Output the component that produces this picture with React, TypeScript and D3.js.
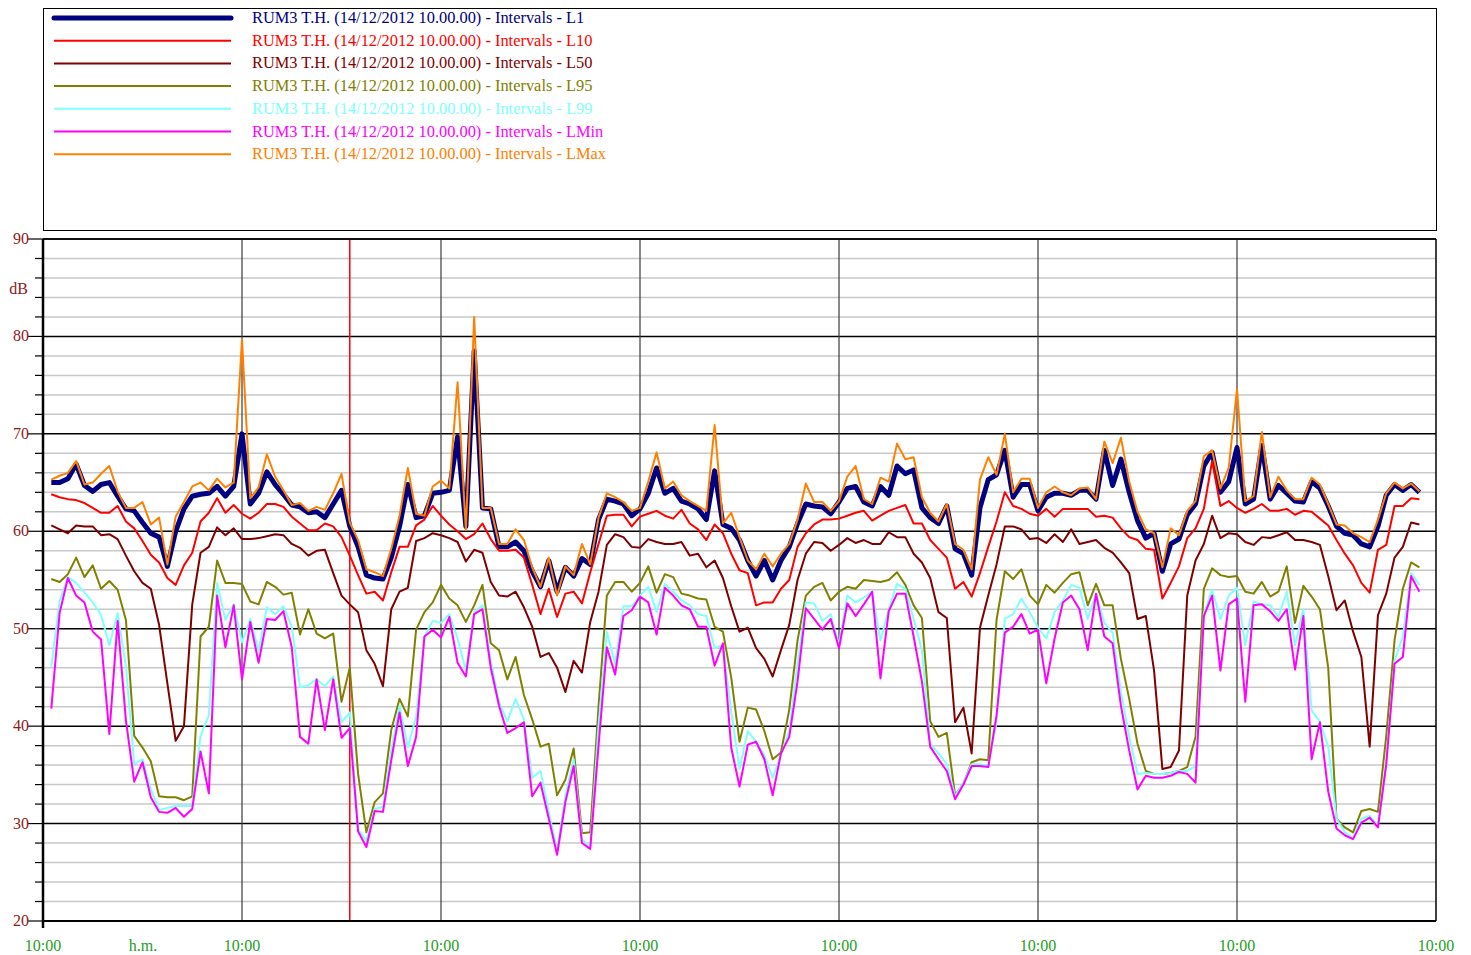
import React from "react";
import * as d3 from "d3";

const W = 1471;
const H = 955;

const seriesNames = ["L1", "L10", "L50", "L95", "L99", "LMin", "LMax"];
const seriesColors = ["#000080", "#ff0000", "#800000", "#808000", "#80ffff", "#ff00ff", "#ff8000"];
const legendPrefix = "RUM3 T.H. (14/12/2012 10.00.00) - Intervals - ";
const yTickLabels = [20, 30, 40, 50, 60, 70, 80, 90];
const xTickLabels = ["10:00", "10:00", "10:00", "10:00", "10:00", "10:00", "10:00", "10:00"];
const xTickHours = [0, 24, 48, 72, 96, 120, 144, 168];
const cursorHour = 37;

const L1 = [65.0,65.0,65.4,66.9,64.7,64.1,64.8,65.0,63.6,62.3,62.1,60.9,59.8,59.4,56.4,60.0,62.3,63.6,63.8,63.9,64.6,63.6,64.6,70.0,62.8,63.9,66.1,64.8,63.8,62.7,62.5,61.9,62.0,61.4,62.8,64.2,60.5,58.4,55.5,55.2,55.1,57.3,60.5,64.8,61.4,61.6,63.9,64.0,64.2,69.7,60.5,78.5,62.4,62.3,58.4,58.4,58.9,58.0,55.9,54.3,57.0,53.8,56.3,55.4,57.2,56.6,61.2,63.3,63.1,62.8,61.6,62.3,63.9,66.5,63.9,64.4,63.1,62.8,62.3,61.2,66.2,60.7,60.3,59.1,57.0,55.4,57.0,55.0,57.0,58.4,60.8,62.8,62.6,62.5,61.8,63.0,64.4,64.6,63.0,62.6,64.6,63.7,66.7,65.9,66.3,62.4,61.4,60.8,62.6,58.2,57.7,55.5,62.4,65.3,65.8,68.3,63.5,64.8,64.8,62.1,63.5,63.9,63.9,63.7,64.2,64.2,63.3,68.3,64.7,67.4,64.0,61.1,59.3,59.8,55.9,58.7,59.2,61.7,62.8,66.7,68.1,64.0,65.1,68.6,62.8,63.3,68.8,63.3,64.7,63.9,63.1,63.0,65.1,64.4,62.6,60.5,59.8,59.6,58.7,58.4,60.5,63.7,64.8,64.2,64.8,64.0];
const L10 = [63.8,63.5,63.3,63.2,62.9,62.4,61.9,61.9,62.6,61.0,60.3,59.0,57.6,56.8,55.2,54.5,56.5,57.8,61.0,61.9,63.4,61.9,62.7,61.8,61.3,61.9,62.8,62.8,62.5,61.5,60.8,60.1,60.1,60.8,60.5,59.4,57.5,55.5,53.6,53.8,52.9,55.8,58.4,58.4,60.6,61.2,62.6,61.6,60.7,60.0,59.2,59.7,60.8,59.2,58.0,58.0,58.1,57.3,54.5,51.5,54.1,51.2,53.6,53.8,52.6,55.8,58.7,61.6,61.7,61.7,60.5,61.5,61.8,62.1,61.6,61.3,62.2,60.8,60.2,59.1,60.7,59.8,57.7,56.0,55.7,52.4,52.7,52.7,54.1,55.0,58.4,59.8,60.7,61.2,61.2,61.3,61.6,61.9,62.1,61.1,61.6,62.1,62.4,62.7,60.8,60.8,59.1,58.2,57.3,54.1,54.8,53.3,55.7,58.4,61.0,64.0,62.6,62.3,61.8,61.6,62.3,61.5,62.3,62.3,62.3,62.3,61.5,61.6,61.4,60.3,59.4,59.1,58.2,58.1,53.1,54.7,56.4,59.3,60.3,62.3,67.2,62.6,63.1,62.4,61.9,62.3,62.8,62.1,62.1,62.3,61.7,62.1,62.0,61.3,60.6,59.1,57.7,56.5,54.7,53.7,58.1,58.6,62.6,62.6,63.4,63.3];
const L50 = [60.6,60.2,59.8,60.6,60.5,60.5,59.6,59.7,59.2,57.5,55.9,54.7,54.1,50.4,44.4,38.5,40.0,52.5,57.8,58.4,60.4,59.6,60.3,59.2,59.2,59.3,59.5,59.7,59.6,58.7,58.3,57.5,58.0,58.1,55.7,53.4,52.5,51.7,47.8,46.4,44.1,52.0,53.8,54.2,59.0,59.3,59.8,59.6,59.3,58.9,56.9,58.1,57.8,54.8,53.4,53.3,53.8,52.2,50.2,47.1,47.5,46.0,43.5,46.7,45.5,50.7,53.8,58.6,59.7,59.4,58.4,58.3,59.2,58.9,58.7,58.7,58.9,57.5,57.7,56.3,57.0,55.2,52.3,49.7,50.1,48.0,46.9,45.1,47.8,50.4,55.0,57.7,58.9,58.8,58.0,58.6,59.3,58.8,59.1,58.7,58.7,59.9,59.4,59.4,57.7,56.8,55.2,51.7,51.1,40.4,41.9,37.2,50.1,53.4,56.6,60.5,60.5,60.2,59.2,59.3,58.8,59.7,58.9,60.2,58.7,58.9,59.1,58.3,57.8,56.8,55.7,51.0,51.3,45.7,35.6,35.8,37.5,53.4,57.0,58.7,61.6,59.3,59.8,59.7,58.9,58.6,59.4,59.3,59.6,59.9,59.1,59.1,58.9,58.6,55.4,51.9,52.9,49.7,47.1,37.9,51.4,53.6,57.3,58.4,60.9,60.7];
const L95 = [55.1,54.8,55.6,57.3,55.3,56.5,54.1,54.9,54.0,50.9,39.0,37.8,36.4,32.8,32.7,32.7,32.4,32.8,49.2,50.2,57.0,54.7,54.7,54.6,52.8,52.5,54.8,54.3,53.5,53.7,49.4,52.0,49.5,49.0,49.5,42.5,46.0,35.1,29.1,32.2,33.1,39.6,42.8,41.0,49.9,51.7,52.7,54.5,53.1,52.4,50.7,52.4,54.5,48.5,47.8,44.8,47.1,43.2,40.7,37.9,38.2,32.9,34.5,37.7,29.0,29.1,42.0,53.4,54.8,54.8,53.8,54.7,56.4,53.7,55.6,55.3,53.6,53.4,53.1,53.0,50.2,49.7,45.0,38.4,41.9,41.7,39.5,36.6,37.3,41.7,48.8,53.4,54.3,54.7,52.9,53.8,54.3,54.1,55.0,54.9,54.8,55.0,55.8,54.5,52.4,51.1,40.5,38.9,39.3,32.9,34.1,36.3,36.6,36.5,50.9,55.9,55.1,56.1,53.4,52.5,54.5,53.7,54.7,55.6,55.8,52.4,54.6,52.4,52.4,46.9,42.8,38.2,35.4,35.1,35.1,35.2,35.4,35.8,38.9,54.1,56.2,55.5,55.3,55.4,53.8,53.6,54.8,53.3,53.8,56.4,50.6,54.4,53.3,52.0,46.0,30.5,29.6,29.1,31.3,31.5,31.2,39.0,48.8,54.1,56.8,56.3];
const L99 = [46.1,52.8,55.3,54.7,53.7,52.7,51.4,48.3,51.6,46.1,36.1,36.6,33.5,31.4,31.6,31.8,31.8,31.8,39.0,41.1,54.7,50.9,52.5,48.6,51.0,47.7,52.2,51.5,52.3,50.2,44.0,44.2,44.8,44.1,45.1,40.4,41.4,29.4,28.2,31.5,31.7,37.5,42.1,37.8,41.0,49.2,50.8,50.6,51.5,49.0,45.7,51.7,52.4,46.7,42.5,40.5,42.8,40.7,34.7,35.4,31.2,27.3,32.9,36.6,28.4,27.6,40.0,49.7,46.4,52.3,52.3,53.4,54.3,51.7,54.6,53.8,52.9,52.4,51.5,51.3,48.0,48.3,41.5,35.6,39.5,38.4,37.0,34.7,37.0,39.5,46.4,52.7,52.6,50.8,51.5,48.3,53.4,52.7,53.2,53.8,48.8,52.0,54.6,54.1,51.0,47.8,38.2,37.2,36.1,32.8,34.2,36.1,36.1,35.9,40.4,51.0,51.5,53.1,51.7,50.1,49.0,51.7,52.9,54.5,54.2,51.0,53.6,50.6,49.6,43.5,38.9,35.1,35.2,35.1,35.1,35.2,35.4,35.4,35.9,51.5,54.0,51.0,53.4,54.2,48.3,52.8,52.5,52.4,51.2,53.8,48.3,52.0,41.6,40.5,37.9,30.5,29.1,28.5,30.5,30.8,29.8,36.1,46.7,49.2,55.7,54.5];
const LMin = [41.8,51.6,55.2,53.4,52.7,49.7,48.9,39.2,50.8,40.6,34.3,36.3,32.7,31.2,31.1,31.6,30.7,31.5,37.4,33.1,53.4,48.1,52.4,44.8,50.7,46.5,51.0,50.9,51.8,48.1,38.9,38.2,44.8,39.6,44.8,38.8,39.8,29.2,27.6,31.3,31.2,36.5,41.4,35.9,38.9,49.2,49.9,49.1,51.2,46.5,45.1,51.5,52.0,46.0,42.1,39.3,39.8,40.4,32.8,34.2,30.5,26.8,32.2,35.9,28.0,27.4,38.0,48.1,45.3,51.3,51.9,53.3,52.7,49.4,54.2,53.4,52.4,52.0,50.2,50.2,46.2,48.5,37.8,33.8,38.1,38.4,36.6,32.9,37.2,38.9,44.6,52.1,51.0,49.9,51.0,48.0,52.6,51.3,52.5,53.8,44.9,51.8,53.6,53.6,49.2,44.6,37.9,36.6,35.4,32.5,34.0,35.9,35.9,35.8,41.1,49.6,50.2,51.5,49.5,49.9,44.4,49.0,52.7,53.4,52.0,47.8,53.6,49.2,48.5,42.1,37.5,33.5,34.9,34.7,34.7,34.9,35.3,35.1,34.2,51.3,53.4,45.7,52.5,53.1,42.5,52.4,52.5,51.8,50.8,52.0,45.8,51.3,36.6,40.4,33.3,29.5,28.8,28.4,30.1,30.6,29.6,36.1,46.4,47.1,55.4,53.8];
const LMax = [65.3,65.7,66.0,67.2,64.8,65.0,65.9,66.7,64.1,62.4,62.4,63.0,60.7,61.4,56.6,61.5,63.0,64.6,65.0,64.2,65.4,64.5,65.0,79.7,63.4,64.5,67.9,65.6,64.2,62.7,62.9,62.1,62.5,62.2,63.9,65.9,60.9,59.1,56.1,55.8,55.4,58.2,61.6,66.5,61.8,61.6,64.6,65.2,64.4,75.3,60.1,82.0,62.4,62.4,58.7,58.7,60.2,59.1,56.3,54.3,57.3,53.4,56.4,55.5,58.7,56.6,61.4,63.9,63.5,63.0,62.1,62.4,65.1,68.1,64.4,65.1,63.7,63.1,62.6,62.1,70.9,60.8,61.9,59.4,57.0,56.1,57.7,56.4,57.7,58.7,61.2,64.9,63.0,63.0,62.1,63.1,65.6,66.7,63.3,62.8,65.5,65.1,69.0,67.4,67.6,63.5,61.9,61.0,62.8,58.7,58.1,56.1,65.3,67.6,65.8,70.0,64.0,65.4,65.4,62.4,64.0,64.6,64.0,63.7,64.4,64.5,63.3,69.2,67.0,69.6,65.1,62.0,60.2,59.8,56.3,60.3,59.6,62.1,63.1,67.7,68.3,64.4,66.5,74.6,63.1,63.6,70.2,63.5,65.6,64.2,63.3,63.3,65.5,64.8,62.8,60.7,60.6,59.8,59.4,58.9,61.2,63.9,65.0,64.4,64.9,64.1];

const seriesData = [L1, L10, L50, L95, L99, LMin, LMax];
const firstHour = 1;

export default function App() {
  const left = 43, right = 1436, top = 239, bottom = 921;
  const x = d3.scaleLinear().domain([0, 168]).range([left, right]);
  const y = d3.scaleLinear().domain([20, 90]).range([bottom, top]);

  const line = d3
    .line<number>()
    .x((_, i) => x(firstHour + i))
    .y((d) => y(d));

  const minorTicks = d3.range(20, 91, 2);
  const font = "'Liberation Serif', 'Times New Roman', serif";
  const axisRed = "#8b1a1a";
  const green = "#1e9e1e";
  const fs = 16;
  const legendFs = 16.4;

  return (
    <svg
      width={W}
      height={H}
      style={{ position: "absolute", left: 0, top: 0, background: "#fff" }}
      fontFamily={font}
    >
      <rect x={0} y={0} width={W} height={H} fill="#fff" />
      {/* Legend box */}
      <rect x={43.5} y={8.5} width={1393} height={222} fill="#fff" stroke="#000" strokeWidth={1} />
      {seriesNames.map((n, i) => {
        const ly = 18 + i * 22.7;
        return (
          <g key={n}>
            <line
              x1={54}
              x2={231}
              y1={ly}
              y2={ly}
              stroke={seriesColors[i]}
              strokeWidth={i === 0 ? 5 : 2}
              strokeLinecap={i === 0 ? "round" : "butt"}
            />
            <text x={252} y={ly + 5} fontSize={legendFs} fill={seriesColors[i]}>
              {legendPrefix + n}
            </text>
          </g>
        );
      })}

      {/* Horizontal grid */}
      {minorTicks.map((v) => (
        <line
          key={"g" + v}
          x1={left}
          x2={right}
          y1={y(v)}
          y2={y(v)}
          stroke={v % 10 === 0 ? "#000" : "#c8c8c8"}
          strokeWidth={1.5}
        />
      ))}
      {/* Vertical day lines */}
      {xTickHours.slice(1, -1).map((h) => (
        <line key={"v" + h} x1={x(h)} x2={x(h)} y1={top} y2={bottom} stroke="#3a3a3a" strokeWidth={1.2} />
      ))}
      {/* Cursor */}
      <line x1={x(cursorHour)} x2={x(cursorHour)} y1={top} y2={bottom} stroke="#ff0000" strokeWidth={1.5} />

      {/* Series */}
      {seriesData.map((data, i) => (
        <path
          key={seriesNames[i]}
          d={line(data) || ""}
          fill="none"
          stroke={seriesColors[i]}
          strokeWidth={i === 0 ? 5 : 2}
          strokeLinejoin="round"
        />
      ))}

      {/* Frame */}
      <line x1={left} x2={right} y1={top} y2={top} stroke="#000" strokeWidth={1.5} />
      <line x1={right} x2={right} y1={top} y2={bottom} stroke="#000" strokeWidth={1.5} />
      <line x1={left} x2={right} y1={bottom} y2={bottom} stroke="#000" strokeWidth={2} />
      <line x1={left} x2={left} y1={top} y2={bottom + 7} stroke="#000" strokeWidth={2.5} />

      {/* Y ticks */}
      {minorTicks.map((v) => (
        <line
          key={"t" + v}
          x1={v % 10 === 0 ? 28 : 35}
          x2={left}
          y1={y(v)}
          y2={y(v)}
          stroke="#000"
          strokeWidth={1.2}
        />
      ))}
      {yTickLabels.map((v) => (
        <text key={"yl" + v} x={29} y={y(v) + 5} fontSize={fs} fill={axisRed} textAnchor="end">
          {v}
        </text>
      ))}
      <text x={28} y={294} fontSize={fs} fill={axisRed} textAnchor="end">
        dB
      </text>

      {/* X labels */}
      {xTickHours.map((h, i) => (
        <text key={"xl" + i} x={x(h)} y={951} fontSize={fs} fill={green} textAnchor="middle">
          {xTickLabels[i]}
        </text>
      ))}
      <text x={143} y={951} fontSize={fs} fill={green} textAnchor="middle">
        h.m.
      </text>
    </svg>
  );
}
